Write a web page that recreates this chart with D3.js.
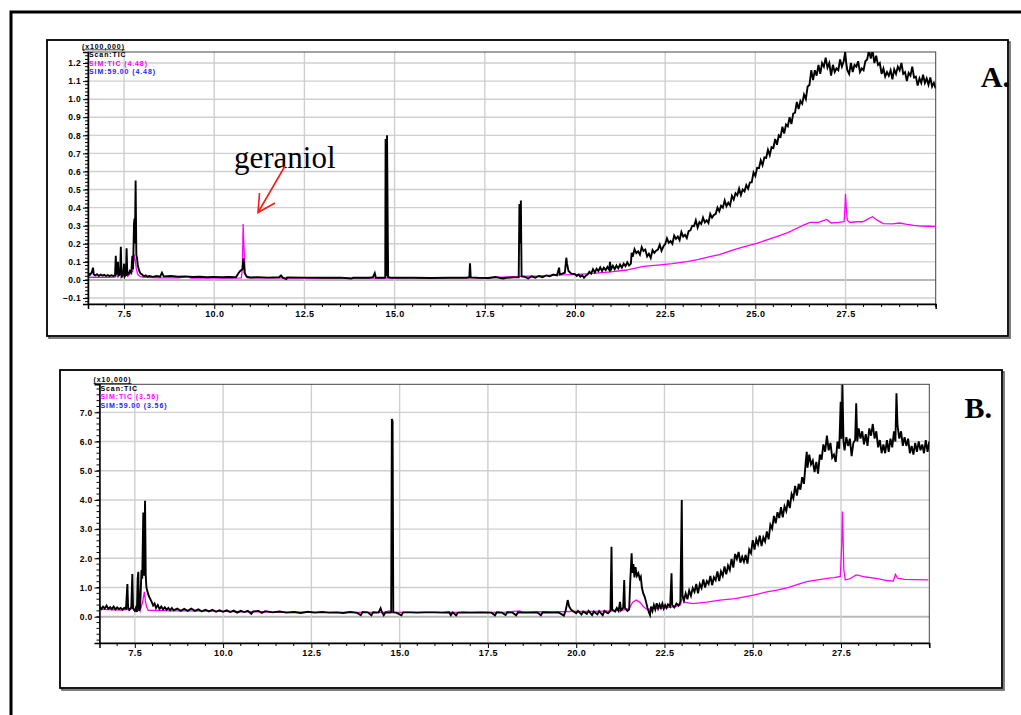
<!DOCTYPE html>
<html lang="en">
<head>
    <meta charset="UTF-8">
    <title>GC-MS chromatograms A / B</title>
    <script src="https://cdn.jsdelivr.net/npm/d3@7"></script>
    <style>
        body { margin: 0; background: #fff; }
    </style>
</head>
<body>
<script type="application/javascript">

    let w = 1021, h = 715;

    // retention time axis (min), shared by both runs
    let timeTicks = [7.5, 10.0, 12.5, 15.0, 17.5, 20.0, 22.5, 25.0, 27.5];

    // run A, intensity in x100,000
    let aYTicks = [-0.1, 0.0, 0.1, 0.2, 0.3, 0.4, 0.5, 0.6, 0.7, 0.8, 0.9, 1.0, 1.1, 1.2];
    let aLegend = ["(x100,000)", "Scan:TIC", "SIM:TIC (4.48)", "SIM:59.00 (4.48)"];

    let aTic = [
        [6.50,0.035],[6.55,0.028],[6.60,0.04],[6.64,0.068],[6.66,0.03],[6.70,0.025],[6.75,0.032],[6.80,0.022],
        [6.85,0.03],[6.90,0.024],[6.95,0.028],[7.00,0.022],[7.05,0.027],[7.10,0.021],[7.15,0.026],[7.20,0.022],
        [7.25,0.025],[7.27,0.134],[7.29,0.03],[7.33,0.10],[7.35,0.025],[7.39,0.03],[7.41,0.184],[7.43,0.02],
        [7.47,0.03],[7.50,0.09],[7.52,0.02],[7.55,0.03],[7.57,0.175],[7.59,0.03],[7.63,0.035],[7.66,0.05],
        [7.70,0.04],[7.73,0.134],[7.75,0.06],[7.775,0.31],[7.79,0.34],[7.80,0.2],[7.82,0.55],[7.84,0.14],
        [7.86,0.12],[7.88,0.08],[7.92,0.05],[7.96,0.035],[8.00,0.03],[8.05,0.02],[8.10,0.025],[8.15,0.018],
        [8.20,0.022],[8.30,0.017],[8.40,0.022],[8.50,0.018],[8.55,0.04],[8.60,0.02],[8.80,0.022],[9.00,0.018],
        [9.20,0.02],[9.40,0.016],[9.60,0.018],[9.80,0.015],[10.0,0.017],[10.2,0.015],[10.4,0.016],[10.6,0.015],
        [10.68,0.04],[10.72,0.05],[10.78,0.06],[10.81,0.12],[10.84,0.04],[10.9,0.018],[11.0,0.014],[11.2,0.015],
        [11.5,0.013],[11.8,0.015],[11.85,0.025],[11.9,0.013],[12.0,0.005],[12.02,0.014],[12.5,0.013],[13.0,0.012],
        [13.5,0.013],[13.8,0.008],[13.85,0.013],[14.0,0.012],[14.3,0.012],[14.4,0.015],[14.45,0.037],[14.48,0.012],
        [14.6,0.013],[14.7,0.012],[14.74,0.014],[14.75,0.78],[14.77,0.02],[14.79,0.80],[14.82,0.015],[14.9,0.012],
        [15.5,0.012],[16.0,0.011],[16.5,0.012],[17.0,0.012],[17.07,0.015],[17.09,0.092],[17.11,0.014],[17.3,0.012],
        [17.6,0.011],[17.8,0.016],[18.0,0.008],[18.1,0.012],[18.3,0.014],[18.44,0.015],[18.46,0.42],[18.48,0.2],
        [18.50,0.44],[18.52,0.02],[18.6,0.018],[18.7,0.008],[18.8,0.02],[18.9,0.012],[19.0,0.022],[19.1,0.015],
        [19.2,0.025],[19.3,0.02],[19.4,0.03],[19.5,0.025],[19.56,0.068],[19.58,0.03],[19.65,0.035],[19.72,0.04],
        [19.76,0.123],[19.78,0.09],[19.82,0.05],[19.9,0.035],
        [20.00,0.032],[20.05,0.022],[20.10,0.03],[20.15,0.018],[20.20,0.026],[20.25,0.012],[20.30,0.024],[20.35,0.03],
        [20.40,0.045],[20.45,0.035],[20.50,0.06],[20.55,0.042],[20.60,0.062],[20.65,0.05],[20.70,0.07],[20.75,0.05],
        [20.80,0.068],[20.85,0.055],[20.90,0.072],[20.95,0.056],[20.97,0.10],[21.00,0.058],[21.05,0.078],[21.10,0.06],
        [21.15,0.08],[21.20,0.064],[21.25,0.085],[21.30,0.068],[21.35,0.09],[21.40,0.076],[21.45,0.098],[21.50,0.08],
        [21.55,0.09],[21.57,0.15],[21.60,0.128],[21.65,0.17],[21.70,0.148],[21.75,0.158],[21.80,0.14],[21.85,0.182],
        [21.90,0.16],[21.95,0.168],[22.00,0.13],[22.05,0.145],[22.10,0.122],[22.15,0.165],[22.20,0.15],[22.25,0.162],
        [22.30,0.168],[22.35,0.195],[22.40,0.162],[22.45,0.185],[22.50,0.198],[22.55,0.23],[22.60,0.205],[22.65,0.215],
        [22.70,0.2],[22.75,0.245],[22.80,0.228],[22.85,0.24],[22.90,0.22],[22.95,0.265],[23.00,0.24],[23.05,0.25],
        [23.10,0.232],[23.15,0.27],[23.20,0.275],[23.25,0.3],[23.30,0.298],[23.35,0.33],[23.40,0.29],[23.45,0.32],
        [23.50,0.31],[23.55,0.345],[23.60,0.318],[23.65,0.33],[23.70,0.315],[23.75,0.365],[23.80,0.345],[23.85,0.36],
        [23.90,0.365],[23.95,0.4],[24.00,0.38],[24.05,0.41],[24.10,0.4],[24.15,0.44],[24.20,0.408],[24.25,0.428],
        [24.30,0.412],[24.35,0.465],[24.40,0.445],[24.45,0.48],[24.50,0.468],[24.55,0.505],[24.60,0.47],[24.65,0.5],
        [24.70,0.49],[24.75,0.525],[24.80,0.505],[24.85,0.54],[24.90,0.54],[24.95,0.595],[25.00,0.575],[25.05,0.62],
        [25.10,0.618],[25.15,0.662],[25.20,0.635],[25.25,0.678],[25.30,0.675],[25.35,0.72],[25.40,0.69],[25.45,0.735],
        [25.50,0.73],[25.55,0.78],[25.60,0.748],[25.65,0.8],[25.70,0.792],[25.75,0.848],[25.80,0.81],[25.85,0.86],
        [25.90,0.85],[25.95,0.9],[26.00,0.862],[26.05,0.92],[26.10,0.925],[26.15,0.985],[26.20,0.945],[26.25,0.99],
        [26.30,0.975],[26.35,1.025],[26.40,1.0],[26.45,1.07],[26.50,1.078],[26.55,1.16],[26.60,1.105],[26.65,1.16],
        [26.70,1.13],[26.75,1.19],[26.80,1.14],[26.85,1.2],[26.90,1.18],[26.95,1.23],[27.00,1.175],[27.05,1.2],
        [27.10,1.13],[27.15,1.19],[27.20,1.15],[27.25,1.17],[27.30,1.16],[27.35,1.22],[27.40,1.18],[27.45,1.21],
        [27.49,1.26],[27.52,1.2],[27.55,1.16],[27.60,1.14],[27.65,1.2],[27.70,1.15],[27.75,1.19],[27.80,1.18],
        [27.85,1.21],[27.90,1.15],[27.95,1.17],[28.00,1.16],[28.05,1.21],[28.10,1.22],[28.15,1.27],[28.20,1.225],
        [28.25,1.27],[28.30,1.2],[28.35,1.24],[28.40,1.19],[28.45,1.2],[28.50,1.14],[28.55,1.17],[28.60,1.125],
        [28.65,1.15],[28.70,1.13],[28.75,1.16],[28.80,1.11],[28.85,1.165],[28.90,1.14],[28.95,1.18],[29.00,1.16],
        [29.05,1.2],[29.10,1.14],[29.15,1.15],[29.20,1.1],[29.25,1.145],[29.30,1.13],[29.35,1.18],[29.40,1.12],
        [29.45,1.125],[29.50,1.075],[29.55,1.115],[29.60,1.09],[29.65,1.135],[29.70,1.09],[29.75,1.115],[29.80,1.08],
        [29.85,1.12],[29.90,1.07],[29.95,1.09],[30.00,1.06]
    ];

    let aSim = [
        [6.5,0.015],[7.0,0.014],[7.25,0.016],[7.3,0.03],[7.33,0.015],[7.42,0.05],[7.45,0.015],[7.58,0.04],
        [7.6,0.02],[7.74,0.05],[7.78,0.14],[7.81,0.11],[7.84,0.06],[7.88,0.03],[7.95,0.018],[8.1,0.015],
        [8.5,0.012],[9.0,0.012],[9.3,0.018],[9.35,0.01],[9.7,0.011],[10.0,0.01],[10.5,0.01],[10.75,0.012],
        [10.78,0.06],[10.8,0.31],[10.82,0.2],[10.83,0.156],[10.86,0.03],[10.92,0.012],[11.5,0.011],[12.5,0.01],
        [13.5,0.01],[14.5,0.01],[15.5,0.012],[16.5,0.012],[17.5,0.012],[18.0,0.015],[18.5,0.02],[19.0,0.022],
        [19.5,0.028],[20.0,0.03],[20.5,0.036],[21.0,0.045],[21.43,0.055],[21.9,0.075],[22.36,0.083],[22.7,0.09],
        [23.1,0.101],[23.4,0.112],[23.74,0.129],[24.0,0.14],[24.39,0.166],[24.7,0.185],[25.04,0.203],[25.3,0.22],
        [25.59,0.24],[25.9,0.262],[26.15,0.286],[26.35,0.305],[26.52,0.319],[26.75,0.318],[26.98,0.335],[27.1,0.315],
        [27.3,0.318],[27.46,0.322],[27.48,0.38],[27.5,0.476],[27.52,0.4],[27.55,0.33],[27.62,0.318],[27.8,0.322],
        [27.98,0.322],[28.1,0.335],[28.25,0.35],[28.4,0.328],[28.55,0.312],[28.8,0.31],[29.0,0.315],[29.2,0.308],
        [29.4,0.302],[29.6,0.298],[29.8,0.297],[30.0,0.295]
    ];

    // run B, intensity in x10,000
    let bYTicks = [0.0, 1.0, 2.0, 3.0, 4.0, 5.0, 6.0, 7.0];
    let bLegend = ["(x10,000)", "Scan:TIC", "SIM:TIC (3.56)", "SIM:59.00 (3.56)"];

    let bTic = [
        [6.50,0.36],[6.55,0.26],[6.60,0.34],[6.65,0.28],[6.70,0.38],[6.75,0.27],[6.80,0.33],[6.85,0.26],
        [6.90,0.35],[6.95,0.25],[7.00,0.32],[7.05,0.26],[7.10,0.3],[7.15,0.24],[7.20,0.3],[7.25,0.27],
        [7.29,1.12],[7.31,0.3],[7.35,0.24],[7.40,0.32],[7.43,1.46],[7.45,0.28],[7.50,0.2],[7.53,0.3],
        [7.56,0.16],[7.58,1.3],[7.60,1.54],[7.62,0.2],[7.65,0.3],[7.69,1.6],[7.71,1.3],[7.74,3.57],
        [7.76,1.4],[7.79,3.97],[7.81,1.38],[7.83,1.0],[7.86,0.85],[7.90,0.7],[7.94,0.6],[7.98,0.5],
        [8.02,0.38],[8.06,0.45],[8.10,0.3],[8.15,0.4],[8.20,0.26],[8.25,0.35],[8.30,0.25],[8.35,0.32],
        [8.40,0.24],[8.45,0.3],[8.50,0.22],[8.55,0.3],[8.60,0.22],[8.70,0.28],[8.80,0.2],[8.90,0.27],
        [9.00,0.2],[9.10,0.28],[9.20,0.2],[9.30,0.25],[9.40,0.18],[9.50,0.24],[9.60,0.18],[9.70,0.24],
        [9.80,0.17],[9.90,0.22],[10.0,0.17],[10.1,0.22],[10.2,0.16],[10.3,0.21],[10.4,0.14],[10.5,0.2],
        [10.6,0.16],[10.7,0.2],[10.8,0.1],[10.85,0.18],[11.0,0.2],[11.1,0.13],[11.2,0.19],[11.4,0.15],
        [11.6,0.18],[11.8,0.14],[12.0,0.16],[12.2,0.13],[12.4,0.17],[12.6,0.14],[12.8,0.16],[13.0,0.14],
        [13.2,0.15],[13.4,0.13],[13.6,0.16],[13.8,0.13],[13.9,0.05],[13.95,0.16],[14.1,0.15],[14.2,0.05],
        [14.25,0.15],[14.4,0.14],[14.46,0.29],[14.5,0.15],[14.55,0.05],[14.6,0.15],[14.7,0.14],[14.76,0.15],
        [14.78,6.77],[14.80,6.7],[14.82,0.15],[14.9,0.14],[15.05,0.05],[15.1,0.15],[15.3,0.15],[15.5,0.14],
        [15.7,0.15],[16.0,0.15],[16.2,0.14],[16.4,0.15],[16.45,0.05],[16.5,0.15],[16.6,0.05],[16.65,0.14],
        [16.8,0.15],[17.0,0.14],[17.3,0.15],[17.6,0.14],[17.7,0.05],[17.75,0.15],[17.9,0.14],[18.0,0.06],
        [18.05,0.15],[18.2,0.14],[18.3,0.05],[18.35,0.15],[18.6,0.14],[18.9,0.15],[19.0,0.05],[19.05,0.15],
        [19.3,0.14],[19.5,0.15],[19.65,0.04],[19.7,0.2],[19.76,0.57],[19.8,0.35],[19.85,0.25],[19.9,0.2],
        [20.0,0.12],[20.05,0.2],[20.15,0.08],[20.2,0.18],[20.3,0.1],[20.35,0.2],[20.45,0.06],[20.5,0.18],
        [20.6,0.08],[20.65,0.19],[20.75,0.05],[20.8,0.2],[20.9,0.12],[20.97,0.2],[21.0,2.4],[21.02,0.25],
        [21.1,0.18],[21.15,0.3],[21.2,0.2],[21.24,0.51],[21.27,0.22],[21.33,0.3],[21.36,1.26],[21.38,0.3],
        [21.45,0.2],[21.5,0.25],[21.53,1.2],[21.57,2.17],[21.59,1.5],[21.62,1.8],[21.65,1.35],[21.68,1.7],
        [21.72,1.4],[21.76,1.49],[21.8,1.3],[21.83,1.37],[21.86,1.0],[21.9,0.8],[21.94,0.68],[21.98,0.5],
        [22.02,0.3],[22.06,0.15],[22.09,0.06],[22.12,0.35],[22.16,0.2],[22.2,0.4],[22.24,0.25],[22.28,0.46],
        [22.32,0.28],[22.36,0.42],[22.4,0.3],[22.44,0.45],[22.48,0.28],[22.52,0.4],[22.56,0.3],[22.6,0.42],
        [22.66,0.35],[22.7,1.49],[22.72,0.4],[22.78,0.32],[22.84,0.45],[22.9,0.38],[22.95,0.5],[22.99,4.0],
        [23.01,0.7],[23.05,0.55],[23.1,0.8],[23.15,0.6],
        [23.20,0.9],[23.25,0.72],[23.30,0.98],[23.35,0.85],[23.40,1.12],[23.45,0.8],[23.50,1.12],[23.55,0.98],
        [23.60,1.28],[23.65,1.0],[23.70,1.22],[23.75,1.12],[23.80,1.4],[23.85,1.08],[23.90,1.35],[23.95,1.25],
        [24.00,1.55],[24.05,1.22],[24.10,1.55],[24.15,1.4],[24.20,1.72],[24.25,1.45],[24.30,1.75],[24.35,1.6],
        [24.40,1.98],[24.45,1.68],[24.50,2.15],[24.55,1.98],[24.60,2.22],[24.65,1.85],[24.70,2.05],[24.75,1.88],
        [24.80,2.12],[24.85,1.82],[24.90,2.3],[24.95,2.18],[25.00,2.62],[25.05,2.3],[25.10,2.65],[25.15,2.48],
        [25.20,2.78],[25.25,2.42],[25.30,2.72],[25.35,2.58],[25.40,2.92],[25.45,2.65],[25.50,3.15],[25.55,3.02],
        [25.60,3.45],[25.65,3.2],[25.70,3.58],[25.75,3.38],[25.80,3.75],[25.85,3.4],[25.90,3.78],[25.95,3.62],
        [26.00,4.0],[26.05,3.72],[26.10,4.2],[26.15,4.05],[26.20,4.48],[26.25,4.15],[26.30,4.55],[26.35,4.35],
        [26.40,4.78],[26.45,4.55],[26.50,5.3],[26.53,5.65],[26.55,5.1],[26.60,5.55],[26.65,5.22],[26.70,5.35],
        [26.75,4.95],[26.80,5.3],[26.85,4.9],[26.90,5.55],[26.95,5.38],[27.00,5.9],[27.05,5.65],[27.10,6.2],
        [27.15,5.7],[27.20,5.95],[27.25,5.45],[27.30,5.55],[27.35,5.3],[27.40,6.0],[27.45,5.75],[27.49,7.36],
        [27.51,6.1],[27.54,7.95],[27.57,6.0],[27.60,5.7],[27.65,6.15],[27.70,5.85],[27.75,6.1],[27.80,5.5],
        [27.85,5.95],[27.90,6.05],[27.93,7.31],[27.96,6.0],[28.00,6.45],[28.05,6.1],[28.10,6.35],[28.15,5.9],
        [28.20,6.25],[28.25,5.85],[28.30,6.45],[28.35,6.2],[28.40,6.6],[28.45,6.1],[28.50,6.35],[28.55,5.8],
        [28.60,6.05],[28.65,5.6],[28.70,5.9],[28.75,5.6],[28.80,6.05],[28.85,5.65],[28.90,6.1],[28.95,5.8],
        [29.00,6.35],[29.04,6.0],[29.07,7.65],[29.10,6.55],[29.15,6.1],[29.20,6.35],[29.25,5.85],[29.30,6.15],
        [29.35,5.85],[29.40,6.1],[29.45,5.6],[29.50,5.85],[29.55,5.55],[29.60,5.95],[29.65,5.65],[29.70,6.0],
        [29.75,5.7],[29.80,5.9],[29.85,5.6],[29.90,6.05],[29.95,5.65],[30.00,6.0]
    ];

    let bSim = [
        [6.5,0.25],[6.8,0.24],[7.1,0.23],[7.28,0.25],[7.3,0.3],[7.32,0.22],[7.45,0.3],[7.5,0.2],
        [7.62,0.35],[7.65,0.2],[7.72,0.5],[7.77,0.85],[7.8,0.55],[7.83,0.35],[7.88,0.22],[7.95,0.22],
        [8.2,0.22],[8.5,0.2],[9.0,0.2],[9.5,0.19],[10.0,0.18],[10.5,0.17],[11.0,0.17],[11.5,0.16],
        [12.0,0.16],[13.0,0.15],[14.0,0.15],[14.6,0.15],[14.7,0.2],[14.74,0.15],[15.5,0.15],[16.5,0.15],
        [17.5,0.15],[18.0,0.16],[18.4,0.2],[18.45,0.16],[19.0,0.17],[19.5,0.17],[20.0,0.18],[20.5,0.18],
        [21.0,0.2],[21.3,0.22],[21.5,0.28],[21.6,0.5],[21.7,0.57],[21.8,0.5],[21.9,0.35],[22.0,0.25],
        [22.2,0.28],[22.5,0.3],[22.8,0.35],[22.95,0.4],[23.02,0.75],[23.06,0.5],[23.3,0.45],[23.7,0.5],
        [24.07,0.57],[24.5,0.62],[25.02,0.74],[25.4,0.85],[25.68,0.91],[26.0,1.0],[26.3,1.12],[26.53,1.2],
        [26.8,1.25],[27.1,1.31],[27.3,1.34],[27.48,1.38],[27.52,2.5],[27.54,3.6],[27.56,2.6],[27.58,1.6],
        [27.62,1.26],[27.75,1.3],[27.93,1.43],[28.2,1.36],[28.49,1.31],[28.8,1.24],[28.98,1.22],[29.04,1.45],
        [29.1,1.32],[29.3,1.28],[29.6,1.27],[29.97,1.26]
    ];

    let sans = "'Liberation Sans', Arial, sans-serif";
    let serif = "'Liberation Serif', 'Times New Roman', serif";

    let svg = d3.select("body")
        .append("svg")
        .attr("width", w)
        .attr("height", h)
        .style("font-family", sans);

    // outer frame
    svg.append("rect")
        .attr("x", 11).attr("y", 12)
        .attr("width", 1030).attr("height", 720)
        .attr("fill", "none")
        .attr("stroke", "#000")
        .attr("stroke-width", 3);

    function drawPanel(p) {
        // panel box with a small shadow
        svg.append("rect")
            .attr("x", p.box[0] + 2).attr("y", p.box[1] + 2)
            .attr("width", p.box[2]).attr("height", p.box[3])
            .attr("fill", "none").attr("stroke", "#555").attr("stroke-width", 1.5);
        svg.append("rect")
            .attr("x", p.box[0]).attr("y", p.box[1])
            .attr("width", p.box[2]).attr("height", p.box[3])
            .attr("fill", "#fff").attr("stroke", "#000").attr("stroke-width", 1.8);

        let x0 = p.plot[0], y0 = p.plot[1], pw = p.plot[2], ph = p.plot[3];

        let xScale = d3.scaleLinear().domain([6.5, 30.0]).range([x0, x0 + pw]);
        let yScale = d3.scaleLinear().domain(p.yDomain).range([y0 + ph, y0]);

        let g = svg.append("g");

        // grid
        g.selectAll(".hgrid")
            .data(p.yTicks)
            .enter()
            .append("line")
            .attr("x1", x0).attr("x2", x0 + pw)
            .attr("y1", function(d) { return yScale(d); })
            .attr("y2", function(d) { return yScale(d); })
            .attr("stroke", function(d) { return d === 0 ? "#b8b8b8" : "#cfcfcf"; })
            .attr("stroke-width", function(d) { return d === 0 ? 2 : 1.4; });

        g.selectAll(".vgrid")
            .data(timeTicks)
            .enter()
            .append("line")
            .attr("x1", function(d) { return xScale(d); })
            .attr("x2", function(d) { return xScale(d); })
            .attr("y1", y0).attr("y2", y0 + ph)
            .attr("stroke", "#cfcfcf")
            .attr("stroke-width", 1.4);

        // plot border
        g.append("rect")
            .attr("x", x0).attr("y", y0)
            .attr("width", pw).attr("height", ph)
            .attr("fill", "none").attr("stroke", "#444").attr("stroke-width", 1);

        // traces
        let clipId = "clip" + p.id;
        svg.append("clipPath").attr("id", clipId)
            .append("rect")
            .attr("x", x0).attr("y", y0).attr("width", pw).attr("height", ph);

        let line = d3.line()
            .x(function(d) { return xScale(d[0]); })
            .y(function(d) { return yScale(d[1]); });

        g.append("path")
            .datum(p.sim)
            .attr("d", line)
            .attr("clip-path", "url(#" + clipId + ")")
            .attr("fill", "none")
            .attr("stroke", "#ff00ff")
            .attr("stroke-width", 1.3);

        g.append("path")
            .datum(p.tic)
            .attr("d", line)
            .attr("clip-path", "url(#" + clipId + ")")
            .attr("fill", "none")
            .attr("stroke", "#000")
            .attr("stroke-width", 1.9);

        // x axis
        let xAxis = d3.axisBottom(xScale)
            .tickValues(timeTicks)
            .tickFormat(d3.format(".1f"))
            .tickSize(5)
            .tickPadding(2);
        let xa = g.append("g")
            .attr("transform", "translate(0," + (y0 + ph) + ")")
            .call(xAxis);
        xa.select(".domain").attr("stroke-width", 1.5);
        xa.selectAll("text")
            .attr("font-size", 9).attr("font-weight", "bold").attr("fill", "#000")
            .attr("letter-spacing", 0.4)
            .style("font-family", sans);

        let xMinor = d3.range(7.0, 30.01, 0.5).filter(function(d) {
            return timeTicks.indexOf(Math.round(d * 10) / 10) < 0;
        });
        g.selectAll(".xminor")
            .data(xMinor)
            .enter()
            .append("line")
            .attr("x1", function(d) { return xScale(d); })
            .attr("x2", function(d) { return xScale(d); })
            .attr("y1", y0 + ph).attr("y2", y0 + ph + 3)
            .attr("stroke", "#000");

        // y axis
        let yAxis = d3.axisLeft(yScale)
            .tickValues(p.yTicks)
            .tickFormat(d3.format(".1f"))
            .tickSize(5)
            .tickPadding(2);
        let ya = g.append("g")
            .attr("transform", "translate(" + x0 + ",0)")
            .call(yAxis);
        ya.select(".domain").attr("stroke-width", 1.5);
        ya.selectAll("text")
            .attr("font-size", 8.5).attr("font-weight", "bold").attr("fill", "#000")
            .attr("letter-spacing", 0.3)
            .style("font-family", sans);

        g.selectAll(".yminor")
            .data(p.yMinor)
            .enter()
            .append("line")
            .attr("x1", x0 - 3).attr("x2", x0)
            .attr("y1", function(d) { return yScale(d); })
            .attr("y2", function(d) { return yScale(d); })
            .attr("stroke", "#000");

        // header text of the data system
        let colors = ["#000", "#000", "#ff00ff", "#2222ff"];
        g.selectAll(".legend")
            .data(p.legend)
            .enter()
            .append("text")
            .attr("x", function(d, i) { return i === 0 ? x0 - 6 : x0 + 1; })
            .attr("y", function(d, i) { return p.legendY[i]; })
            .attr("font-size", 7)
            .attr("font-weight", "bold")
            .attr("letter-spacing", 0.9)
            .attr("fill", function(d, i) { return colors[i]; })
            .attr("text-decoration", function(d, i) { return i === 0 ? "underline" : null; })
            .text(function(d) { return d; });

        // panel letter
        svg.append("text")
            .attr("x", p.letterPos[0]).attr("y", p.letterPos[1])
            .attr("text-anchor", "end")
            .style("font-family", serif)
            .attr("font-size", 30)
            .attr("font-weight", "bold")
            .text(p.letter);
    }

    drawPanel({
        id: "A",
        box: [47, 40, 961, 296],
        plot: [88, 52, 847.7, 252],
        yDomain: [-0.133, 1.261],
        yTicks: aYTicks,
        yMinor: d3.range(-0.12, 1.26, 0.02),
        legend: aLegend,
        legendY: [48.5, 57, 65.5, 74],
        tic: aTic,
        sim: aSim,
        letter: "A.",
        letterPos: [1010, 87]
    });

    drawPanel({
        id: "B",
        box: [60, 370, 942, 318],
        plot: [99.5, 384.3, 829.8, 258.7],
        yDomain: [-0.9, 7.96],
        yTicks: bYTicks,
        yMinor: d3.range(-0.8, 7.95, 0.2),
        legend: bLegend,
        legendY: [382, 390.5, 399, 407.5],
        tic: bTic,
        sim: bSim,
        letter: "B.",
        letterPos: [992, 418]
    });

    // geraniol annotation on run A
    svg.append("text")
        .attr("x", 234).attr("y", 168)
        .style("font-family", serif)
        .attr("font-size", 31)
        .text("geraniol");

    let arrow = svg.append("g")
        .attr("stroke", "#ff1a1a")
        .attr("stroke-width", 1.6)
        .attr("fill", "none");
    arrow.append("line")
        .attr("x1", 285).attr("y1", 166)
        .attr("x2", 258).attr("y2", 212.5);
    arrow.append("polyline")
        .attr("points", "259.5,193 258,212.5 275,203");

</script>
</body>
</html>
